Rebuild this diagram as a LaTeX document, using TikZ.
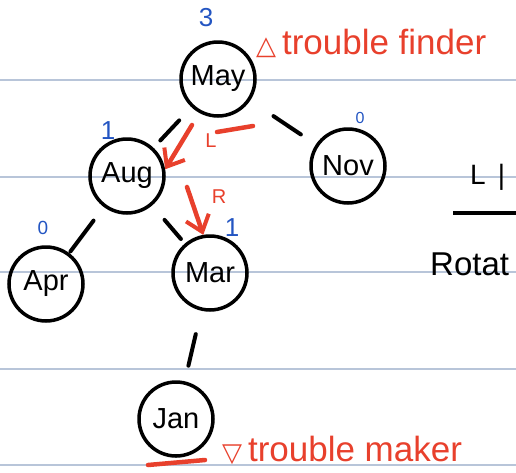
\documentclass[tikz,border=0pt]{standalone}
\usepackage{fontspec}
\setmainfont{Liberation Sans}
\newfontfamily\symfont{DejaVu Sans}
\usetikzlibrary{arrows.meta,positioning}
\definecolor{noteRule}{HTML}{B8C5D9}
\definecolor{noteRed}{HTML}{E8402C}
\definecolor{noteBlue}{HTML}{2355C2}
\tikzset{
  month/.style={draw, circle, line width=3.5pt, minimum size=74pt, inner sep=0pt,
    font=\fontsize{29}{31}\selectfont},
  link/.style={line width=4pt, line cap=round},
  rotarrow/.style={-{Straight Barb[length=15pt, width=24pt, line width=4pt]},
    line width=4.5pt, noteRed, line cap=round},
  redmark/.style={line width=4.5pt, noteRed, line cap=round},
  bal/.style={text=noteBlue, inner sep=0pt, font=\fontsize{26}{28}\selectfont},
  side/.style={text=noteRed, inner sep=0pt, font=\fontsize{20}{22}\selectfont},
  note/.style={text=noteRed, inner sep=0pt, anchor=west, font=\fontsize{35}{37}\selectfont},
  ruleline/.style={noteRule, line width=1.5pt}
}
\begin{document}
\begin{tikzpicture}[x=1pt, y=-1pt]
  \useasboundingbox (0,0) rectangle (516,472);
  % ruled paper
  \foreach \yy in {80,177,272,369,465}
    \draw[ruleline] (0,\yy) -- (516,\yy);

  % tree
  \node[month] (May) at (218,79) {May};
  \node[month] (Aug) at (127,176) {Aug};
  \node[month] (Nov) at (348,166) {Nov};
  \node[month] (Apr) at (46,284) {Apr};
  \node[month] (Mar) at (210,273) {Mar};
  \node[month] (Jan) at (176,419) {Jan};

  \draw[link, shorten <=18pt, shorten >=10pt] (May) -- (Aug);
  \draw[link, shorten <=28pt, shorten >=18pt] (May) -- (Nov);
  \draw[link, shorten <=17pt, shorten >=2pt] (Aug) -- (Apr);
  \draw[link, shorten <=19pt, shorten >=6pt] (Aug) -- (Mar);
  \draw[link, shorten <=24pt, shorten >=16pt] (Mar) -- (Jan);

  % balance factors
  \node[bal] (bMay) at (206,18) {3};
  \node[bal] (bAug) at (108,131) {1};
  \node[bal, font=\fontsize{16}{18}\selectfont] (bNov) at (360,118) {0};
  \node[bal, font=\fontsize{19}{21}\selectfont] (bApr) at (43,228) {0};
  \node[bal] (bMar) at (232,228) {1};

  % rotations
  \coordinate (lStart) at (192,125);
  \coordinate (rStart) at (187,187);
  \draw[rotarrow] (lStart) -- (Aug.10);
  \draw[rotarrow] (rStart) -- (Mar.100);
  \draw[redmark] (217,132) -- (253,126);
  \node[side] (lTag) at (211,141) {L};
  \node[side] (rTag) at (219,197) {R};

  % notes
  \node[note] (finder) at (256,43) {{\symfont\fontsize{26}{28}\selectfont △}\,trouble finder};
  \node[note] (maker) at (222,450) {{\symfont\fontsize{26}{28}\selectfont ▽}\,trouble maker};
  \draw[redmark] (148,465) -- (205,460);

  % cut-off side notes
  \node[anchor=west, inner sep=0pt, font=\fontsize{28}{30}\selectfont] (case) at (470,177) {L\hspace{12pt}|};
  \draw[line width=3.5pt] (453,213) -- (516,213);
  \node[anchor=west, inner sep=0pt, font=\fontsize{33}{35}\selectfont] (rot) at (430,264) {Rotat};
\end{tikzpicture}
\end{document}
